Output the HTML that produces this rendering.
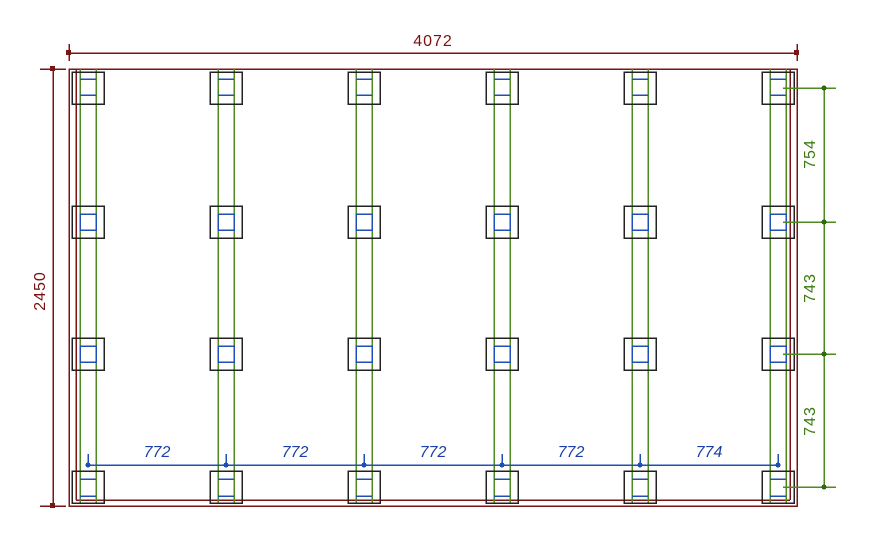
<!DOCTYPE html>
<html><head><meta charset="utf-8"><style>
html,body{margin:0;padding:0;background:#fff;width:894px;height:550px;overflow:hidden}
svg{display:block}
text{font-family:"Liberation Sans",sans-serif}
</style></head><body>
<svg id="s" width="894" height="550" viewBox="0 0 894 550" xmlns="http://www.w3.org/2000/svg">
<g id="g" shape-rendering="crispEdges"></g>
<text x="433" y="46" fill="#7a1010" font-size="16" text-anchor="middle" letter-spacing="1">4072</text>
<text transform="translate(45,291) rotate(-90)" fill="#7a1010" font-size="16" text-anchor="middle" letter-spacing="1">2450</text>
<g fill="#1a3fa8" font-size="16" font-style="italic" text-anchor="middle">
<text x="157" y="457">772</text>
<text x="295" y="457">772</text>
<text x="433" y="457">772</text>
<text x="571" y="457">772</text>
<text x="709" y="457">774</text>
</g>
<g fill="#3a7a10" font-size="16" text-anchor="middle" letter-spacing="1">
<text transform="translate(815,154) rotate(-90)">754</text>
<text transform="translate(815,288) rotate(-90)">743</text>
<text transform="translate(815,421) rotate(-90)">743</text>
</g>
</svg>
<script>
var g=document.getElementById('g'),NS='http://www.w3.org/2000/svg';
function el(t,a){var e=document.createElementNS(NS,t);for(var k in a)e.setAttribute(k,a[k]);g.appendChild(e);return e;}
function ln(x1,y1,x2,y2,c,w){el('line',{x1:x1,y1:y1,x2:x2,y2:y2,stroke:c,'stroke-width':w||1.5});}
var R='#7a1515',G='#4f8a20',B='#1f4fb5',K='#222';
// frame
el('rect',{x:69,y:69,width:728,height:437,fill:'none',stroke:R,'stroke-width':1.5});
ln(76,69,76,500,R);ln(76,500,790,500,R);ln(790,69,790,500,R);
var cols=[88,226,364,502,640,778],rows=[88,222,354,487];
// green joists
cols.forEach(function(c){ln(c-8,69,c-8,503,G);ln(c+8,69,c+8,503,G);});
// posts
cols.forEach(function(c,i){rows.forEach(function(r,j){
 el('rect',{x:c-16,y:r-16,width:32,height:32,fill:'none',stroke:K,'stroke-width':1.5});
 if(j==1||j==2){el('rect',{x:c-8,y:r-8,width:16,height:16,fill:'none',stroke:B,'stroke-width':1.5});}
 else if(j==0){ln(c-8,r-9,c+8,r-9,B);ln(c-8,r+7,c+8,r+7,B);}
 else {ln(c-8,r-8,c+8,r-8,B);ln(c-8,r+9,c+8,r+9,B);}
});});
// top dim
ln(69,53,797,53,R);ln(69,44,69,61,R);ln(797,44,797,61,R);
el('rect',{x:66,y:50,width:5,height:5,fill:R});el('rect',{x:794,y:50,width:5,height:5,fill:R});
// left dim
ln(53,69,53,506,R);ln(40,69,66,69,R);ln(40,506,66,506,R);
el('rect',{x:50,y:66,width:5,height:5,fill:R});el('rect',{x:50,y:503,width:5,height:5,fill:R});
// bottom blue dim
ln(88,465,778,465,B);
cols.forEach(function(c){ln(c,454,c,465,B);el('circle',{cx:c,cy:465,r:2.5,fill:B});});
// right green dim
ln(824,87,824,487,G);
rows.forEach(function(r){ln(783,r,836,r,G);el('circle',{cx:824,cy:r,r:2.5,fill:'#2f6a10'});});
</script>
</body></html>
